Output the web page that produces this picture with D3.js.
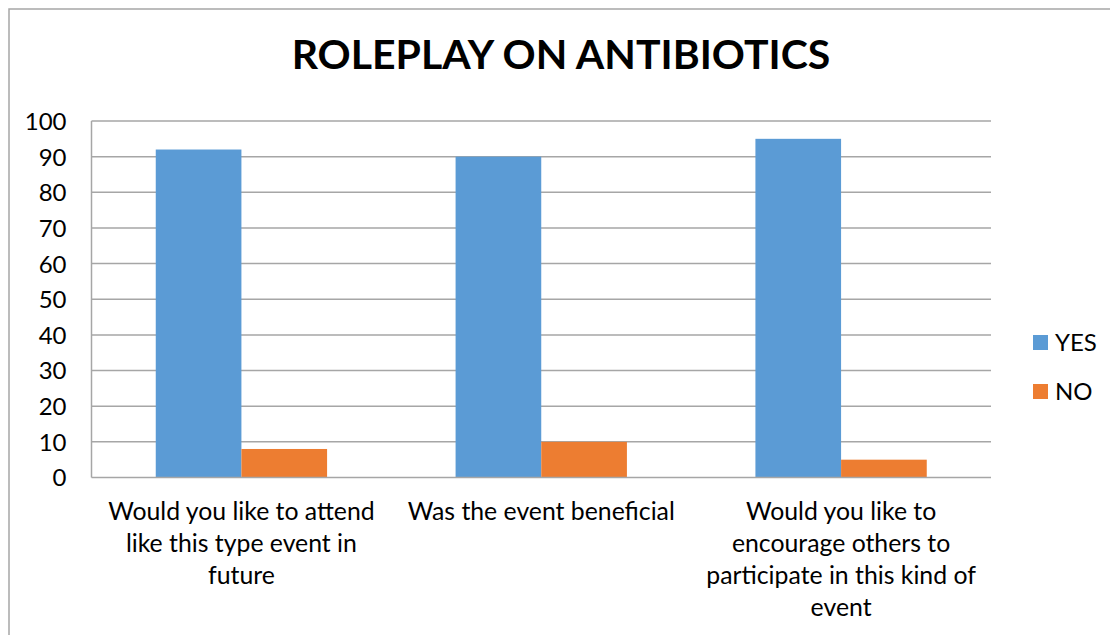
<!DOCTYPE html>
<html><head><meta charset="utf-8">
<script src="https://cdn.jsdelivr.net/npm/d3@7"></script>
<style>body{margin:0;background:#fff}svg{display:block}text{font-family:Lato,"Open Sans",sans-serif}</style>
</head><body>
<svg id="c" width="1110" height="635"></svg>
<script>
const categories = [
  ["Would you like to attend","like this type event in","future"],
  ["Was the event beneficial"],
  ["Would you like to","encourage others to","participate in this kind of","event"]
];
const categoryKeys = ["Q1","Q2","Q3"];
const seriesNames = ["YES","NO"];
const yesValues = [92, 90, 95];
const noValues = [8, 10, 5];
const yTicks = [0,10,20,30,40,50,60,70,80,90,100];
const colors = ["#5b9bd5","#ed7d31"];
const titleText = "ROLEPLAY ON ANTIBIOTICS";

const svg = d3.select("#c");
// outer chart border
svg.append("rect").attr("x",9).attr("y",9).attr("width",1120).attr("height",640)
  .attr("fill","#fff").attr("stroke","#a6a6a6").attr("stroke-width",1.5);

const L=91.5, R=991, T=121, B=477.5;
const x = d3.scaleBand().domain(categoryKeys).range([L,R]).paddingInner(0).paddingOuter(0);
const y = d3.scaleLinear().domain([0,100]).range([B,T]);
const barW = x.bandwidth()/3.5;
const xs = d3.scaleBand().domain(seriesNames).range([0,2*barW]);

// gridlines
svg.append("g").selectAll("line").data(yTicks.filter(d=>d>0)).join("line")
  .attr("x1",L).attr("x2",R).attr("y1",d=>y(d)).attr("y2",d=>y(d))
  .attr("stroke","#a6a6a6").attr("stroke-width",1.5);

const data = categoryKeys.map((k,i)=>({k, vals:[yesValues[i], noValues[i]]}));
const g = svg.append("g").selectAll("g").data(data).join("g")
  .attr("transform",d=>`translate(${x(d.k)+x.bandwidth()/2-barW},0)`);
g.selectAll("rect").data(d=>d.vals.map((v,j)=>({s:seriesNames[j],v,j}))).join("rect")
  .attr("x",d=>xs(d.s)).attr("width",xs.bandwidth())
  .attr("y",d=>y(d.v)).attr("height",d=>B-y(d.v))
  .attr("fill",d=>colors[d.j]);

// axes lines
svg.append("line").attr("x1",L).attr("x2",L).attr("y1",T).attr("y2",B).attr("stroke","#a6a6a6").attr("stroke-width",1.5);
svg.append("line").attr("x1",L).attr("x2",R).attr("y1",B).attr("y2",B).attr("stroke","#a6a6a6").attr("stroke-width",1.5);

// y tick labels
const yAxis = d3.axisLeft(y).tickValues(yTicks).tickSize(0).tickPadding(25);
const ya = svg.append("g").attr("transform",`translate(${L},0)`).call(yAxis);
ya.select(".domain").remove();
ya.selectAll("text").attr("font-size",24).attr("fill","#000").attr("font-family","Lato").attr("dy","0.35em");

// category labels
const cl = svg.append("g").selectAll("text").data(data).join("text")
  .attr("text-anchor","middle").attr("font-size",24.8).attr("fill","#000");
cl.each(function(d,i){
  d3.select(this).selectAll("tspan").data(categories[i]).join("tspan")
    .attr("x",x(d.k)+x.bandwidth()/2).attr("y",(t,j)=>520+j*32).text(t=>t);
});

// title
svg.append("text").attr("x",561).attr("y",69).attr("text-anchor","middle")
  .attr("font-size",41).attr("font-weight","bold").attr("fill","#000").text(titleText);

// legend
const lg = svg.append("g").selectAll("g").data(seriesNames).join("g")
  .attr("transform",(d,i)=>`translate(1033,${335+i*49})`);
lg.append("rect").attr("width",15).attr("height",15).attr("fill",(d,i)=>colors[i]);
lg.append("text").attr("x",22).attr("y",15.5).attr("font-size",24).attr("fill","#000").text(d=>d);
</script>
</body></html>
